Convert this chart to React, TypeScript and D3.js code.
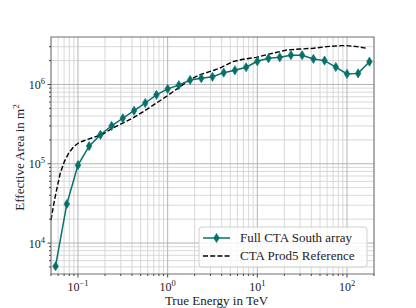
import {useEffect, useRef} from "react";
import * as d3 from "d3";

// binned effective area of the full array (TeV, m^2)
const arrayEnergy = [0.0562, 0.075, 0.1, 0.133, 0.178, 0.237, 0.316, 0.422, 0.562, 0.75,
  1.0, 1.33, 1.78, 2.37, 3.16, 4.22, 5.62, 7.5, 10, 13.3,
  17.8, 23.7, 31.6, 42.2, 56.2, 75, 100, 133, 178];
const arrayArea = [5.1e3, 3.1e4, 9.6e4, 1.67e5, 2.32e5, 3.0e5, 3.75e5, 4.67e5, 5.84e5, 7.4e5,
  8.8e5, 9.8e5, 1.14e6, 1.2e6, 1.25e6, 1.41e6, 1.51e6, 1.65e6, 1.96e6, 2.14e6,
  2.2e6, 2.34e6, 2.34e6, 2.1e6, 2.0e6, 1.66e6, 1.36e6, 1.38e6, 1.94e6];

// prod5 reference curve
const refEnergy = [0.05, 0.0543, 0.0582, 0.0634, 0.0703, 0.0787, 0.0895, 0.102, 0.116, 0.15,
  0.186, 0.242, 0.406, 0.573, 0.959, 1.35, 1.75, 2.26, 2.93, 3.79,
  5.35, 6.92, 9.77, 13.8, 21.2, 29.8, 42.1, 59.4, 83.7, 99.6, 129, 167];
const refArea = [1.95e4, 3.32e4, 4.9e4, 7.58e4, 1.06e5, 1.36e5, 1.64e5, 1.84e5, 1.95e5, 2.16e5,
  2.34e5, 2.8e5, 3.75e5, 4.77e5, 7.01e5, 9.22e5, 1.14e6, 1.32e6, 1.45e6, 1.6e6,
  1.94e6, 2.08e6, 2.2e6, 2.43e6, 2.72e6, 2.8e6, 2.86e6, 3.0e6, 3.09e6, 3.09e6, 3.0e6, 2.86e6];

const xTicks = [0.1, 1, 10, 100];
const xTickExp = ["\u22121", "0", "1", "2"];
const yTicks = [1e4, 1e5, 1e6];
const yTickExp = ["4", "5", "6"];
const legendLabels = ["Full CTA South array", "CTA Prod5 Reference"];

const TEAL = "#06706b";
const FONT = "'Liberation Serif', serif";

const App = () => {
  const ref = useRef(null);

  useEffect(() => {
    const el = ref.current;
    d3.select(el).selectAll("*").remove();
    const W = 416, H = 308;
    const margin = {top: 37, right: 42, bottom: 34, left: 51};
    const width = W - margin.left - margin.right;
    const height = H - margin.top - margin.bottom;

    const svg = d3.select(el).append("svg")
      .attr("width", W).attr("height", H)
      .style("position", "fixed").style("left", 0).style("top", 0)
      .style("font-family", FONT);
    svg.append("rect").attr("width", W).attr("height", H).attr("fill", "#fff");
    const g = svg.append("g").attr("transform", `translate(${margin.left},${margin.top})`);

    const x = d3.scaleLog().domain([0.05, 200]).range([0, width]);
    const y = d3.scaleLog().domain([4.07e3, 3.97e6]).range([height, 0]);

    // minor + major tick values
    const xMinor = [];
    for (let p = -2; p <= 2; p++) for (let m = 2; m <= 9; m++) {
      const v = m * Math.pow(10, p);
      if (v >= 0.05 && v <= 200) xMinor.push(v);
    }
    const yMinor = [];
    for (let p = 3; p <= 6; p++) for (let m = 2; m <= 9; m++) {
      const v = m * Math.pow(10, p);
      if (v >= 4.07e3 && v <= 3.97e6) yMinor.push(v);
    }

    // grid
    const grid = g.append("g");
    grid.selectAll(".gxm").data(xMinor).join("line")
      .attr("x1", d => x(d)).attr("x2", d => x(d)).attr("y1", 0).attr("y2", height)
      .attr("stroke", "#d4d4d4").attr("stroke-width", 0.9);
    grid.selectAll(".gym").data(yMinor).join("line")
      .attr("y1", d => y(d)).attr("y2", d => y(d)).attr("x1", 0).attr("x2", width)
      .attr("stroke", "#d4d4d4").attr("stroke-width", 0.9);
    grid.selectAll(".gx").data(xTicks).join("line")
      .attr("x1", d => x(d)).attr("x2", d => x(d)).attr("y1", 0).attr("y2", height)
      .attr("stroke", "#b4b4b4").attr("stroke-width", 1);
    grid.selectAll(".gy").data(yTicks).join("line")
      .attr("y1", d => y(d)).attr("y2", d => y(d)).attr("x1", 0).attr("x2", width)
      .attr("stroke", "#b4b4b4").attr("stroke-width", 1);

    // reference (dashed)
    const refData = refEnergy.map((e, i) => [e, refArea[i]]);
    g.append("path").datum(refData)
      .attr("fill", "none").attr("stroke", "#000").attr("stroke-width", 1.4)
      .attr("stroke-dasharray", "5,2.2")
      .attr("d", d3.line().x(d => x(d[0])).y(d => y(d[1])));

    // array line + markers
    const arrData = arrayEnergy.map((e, i) => [e, arrayArea[i]]);
    g.append("path").datum(arrData)
      .attr("fill", "none").attr("stroke", TEAL).attr("stroke-width", 1.5)
      .attr("d", d3.line().x(d => x(d[0])).y(d => y(d[1])));
    const diamond = "M0,-4.6L2.8,0L0,4.6L-2.8,0Z";
    g.selectAll(".mk").data(arrData).join("path")
      .attr("d", diamond)
      .attr("transform", d => `translate(${x(d[0])},${y(d[1])})`)
      .attr("fill", TEAL).attr("stroke", TEAL).attr("stroke-width", 0.6);

    // spines
    g.append("rect").attr("width", width).attr("height", height)
      .attr("fill", "none").attr("stroke", "#6e6e6e").attr("stroke-width", 1);

    // ticks
    const ax = g.append("g").attr("stroke", "#444");
    ax.selectAll(".xt").data(xTicks).join("line")
      .attr("x1", d => x(d)).attr("x2", d => x(d)).attr("y1", height).attr("y2", height + 3.5);
    ax.selectAll(".xtm").data(xMinor).join("line")
      .attr("x1", d => x(d)).attr("x2", d => x(d)).attr("y1", height).attr("y2", height + 2);
    ax.selectAll(".yt").data(yTicks).join("line")
      .attr("y1", d => y(d)).attr("y2", d => y(d)).attr("x1", 0).attr("x2", -3.5);
    ax.selectAll(".ytm").data(yMinor).join("line")
      .attr("y1", d => y(d)).attr("y2", d => y(d)).attr("x1", 0).attr("x2", -2);

    // tick labels
    xTicks.forEach((t, i) => {
      const tx = g.append("text").attr("x", x(t)).attr("y", height + 17)
        .attr("text-anchor", "middle").attr("font-size", 12).attr("fill", "#222");
      tx.append("tspan").text("10");
      tx.append("tspan").attr("dy", -5).attr("font-size", 8.5).text(xTickExp[i]);
    });
    yTicks.forEach((t, i) => {
      const tx = g.append("text").attr("x", -6).attr("y", y(t) + 4.5)
        .attr("text-anchor", "end").attr("font-size", 12).attr("fill", "#222");
      tx.append("tspan").text("10");
      tx.append("tspan").attr("dy", -5).attr("font-size", 8.5).text(yTickExp[i]);
    });

    // axis labels
    g.append("text").attr("x", width / 2 + 4).attr("y", height + 31)
      .attr("text-anchor", "middle").attr("font-size", 13).attr("fill", "#222")
      .text("True Energy in TeV");
    const yl = g.append("text")
      .attr("transform", `translate(${-27},${height / 2 + 2}) rotate(-90)`)
      .attr("text-anchor", "middle").attr("font-size", 13).attr("fill", "#222");
    yl.append("tspan").text("Effective Area in m");
    yl.append("tspan").attr("dy", -5).attr("font-size", 9).text("2");

    // legend
    const lg = g.append("g").attr("transform", `translate(${148},${190})`);
    lg.append("rect").attr("width", 168).attr("height", 40).attr("rx", 3)
      .attr("fill", "#fff").attr("fill-opacity", 0.8).attr("stroke", "#d0d0d0").attr("stroke-width", 1);
    lg.append("line").attr("x1", 4).attr("x2", 31).attr("y1", 11).attr("y2", 11)
      .attr("stroke", TEAL).attr("stroke-width", 1.5);
    lg.append("path").attr("d", diamond).attr("transform", "translate(17.5,11)")
      .attr("fill", TEAL).attr("stroke", TEAL).attr("stroke-width", 0.6);
    lg.append("line").attr("x1", 4).attr("x2", 31).attr("y1", 29).attr("y2", 29)
      .attr("stroke", "#000").attr("stroke-width", 1.4).attr("stroke-dasharray", "5,2.2");
    legendLabels.forEach((l, i) => {
      lg.append("text").attr("x", 41).attr("y", 15 + i * 18)
        .attr("font-size", 13).attr("fill", "#222").text(l);
    });
  }, []);

  return <div ref={ref} style={{position: "relative", width: 416, height: 308}}></div>;
};

export default App;
